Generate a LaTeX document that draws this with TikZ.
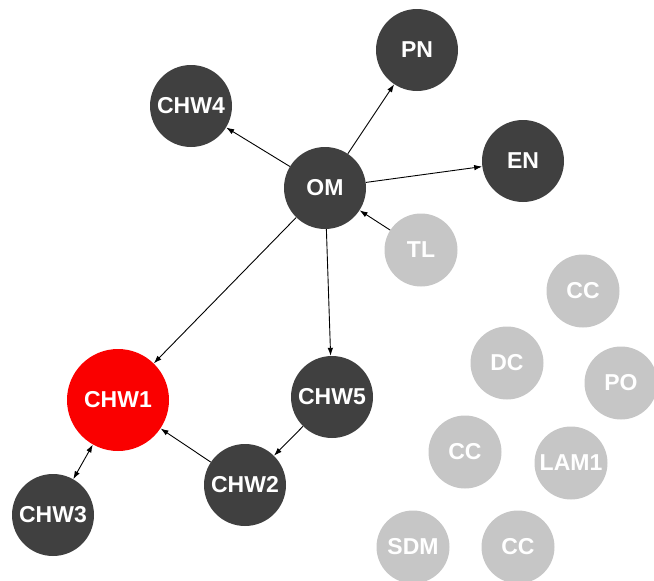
\documentclass[tikz,border=0pt]{standalone}
\usepackage{fontspec}
\setmainfont{Liberation Sans}
\usetikzlibrary{arrows.meta}

\definecolor{darknode}{RGB}{64,64,64}
\definecolor{lightnode}{RGB}{198,198,198}
\definecolor{hotnode}{RGB}{250,0,0}

\begin{document}
\begin{tikzpicture}[%
        % one unit is one pixel of the picture, y grows downwards
        x=1pt,y=-1pt,
        every node/.style={circle,inner sep=0pt,text=white,
            font=\bfseries\fontsize{23}{23}\selectfont},
        dark/.style={fill=darknode,minimum size=82pt},
        faded/.style={fill=lightnode,minimum size=73pt},
        hot/.style={fill=hotnode,minimum size=102pt},
        link/.style={-{Latex[length=8pt,width=5.5pt]},line width=0.9pt},
        ]

        \useasboundingbox (0,0) rectangle (654,581);

        % connected nodes
        \node[dark] (PN) at (417,50) {PN};
        \node[dark] (CHW4) at (191,106) {CHW4};
        \node[dark] (OM) at (325,188) {OM};
        \node[dark] (EN) at (523,161) {EN};
        \node[hot] (CHW1) at (118,400) {CHW1};
        \node[dark] (CHW5) at (332,397) {CHW5};
        \node[dark] (CHW2) at (245,485) {CHW2};
        \node[dark] (CHW3) at (53,515) {CHW3};

        % loose nodes
        \node[faded] (TL) at (421,250) {TL};
        \node[faded] (CCa) at (583,291) {CC};
        \node[faded] (DC) at (507,363) {DC};
        \node[faded] (PO) at (621,383) {PO};
        \node[faded] (CCb) at (465,452) {CC};
        \node[faded] (LAM1) at (571,463) {LAM1};
        \node[faded] (SDM) at (413,547) {SDM};
        \node[faded] (CCc) at (518,547) {CC};

        % links
        \draw[link] (OM) -- (CHW4);
        \draw[link] (OM) -- (PN);
        \draw[link] (OM) -- (EN);
        \draw[link] (TL) -- (OM);
        \draw[link] (OM) -- (CHW1);
        \draw[link] (OM) -- (CHW5);
        \draw[link] (CHW5) -- (CHW2);
        \draw[link] (CHW2) -- (CHW1);
        \draw[link,{Latex[length=8pt,width=5.5pt]}-{Latex[length=8pt,width=5.5pt]}] (CHW1) -- (CHW3);

\end{tikzpicture}
\end{document}
